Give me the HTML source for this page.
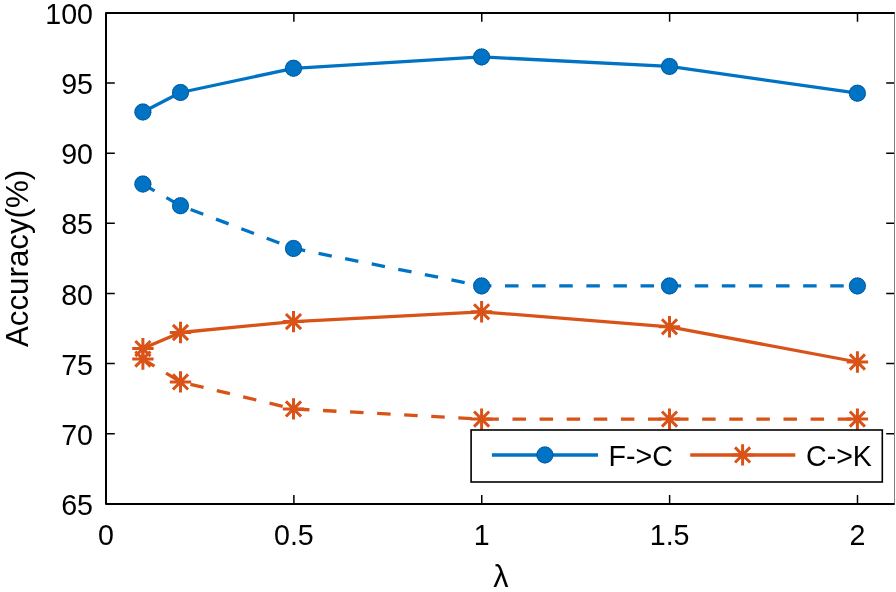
<!DOCTYPE html>
<html><head><meta charset="utf-8"><title>Accuracy vs lambda</title><style>html,body{margin:0;padding:0;background:#fff;width:896px;height:592px;overflow:hidden}svg{display:block}</style></head><body>
<svg width="896" height="592" viewBox="0 0 896 592">
<rect width="896" height="592" fill="#fff"/>
<g fill="none" stroke-linejoin="round">
<polyline points="142.90,112.00 180.50,92.50 293.50,68.30 481.60,56.90 669.50,66.40 857.40,93.20" stroke="#0073C4" stroke-width="3.3"/>
<polyline points="142.90,184.10 180.50,205.70 293.50,248.40 481.60,285.90 669.50,285.90 857.40,285.90" stroke="#0073C4" stroke-width="3.3" stroke-dasharray="13.5 13.6" stroke-dashoffset="0"/>
<polyline points="142.90,348.60 180.50,332.50 293.50,321.60 481.60,311.80 669.50,326.80 857.40,362.00" stroke="#D95319" stroke-width="3.3"/>
<polyline points="142.90,359.10 180.50,381.90 293.50,408.90 481.60,419.10 669.50,419.10 857.40,419.10" stroke="#D95319" stroke-width="3.3" stroke-dasharray="13.5 13.6" stroke-dashoffset="0"/>
</g>
<circle cx="142.90" cy="112.00" r="8.5" fill="#0073C4"/>
<circle cx="142.90" cy="112.00" r="8.05" fill="none" stroke="#00407f" stroke-width="0.9" stroke-dasharray="1.1 0.75"/>
<circle cx="180.50" cy="92.50" r="8.5" fill="#0073C4"/>
<circle cx="180.50" cy="92.50" r="8.05" fill="none" stroke="#00407f" stroke-width="0.9" stroke-dasharray="1.1 0.75"/>
<circle cx="293.50" cy="68.30" r="8.5" fill="#0073C4"/>
<circle cx="293.50" cy="68.30" r="8.05" fill="none" stroke="#00407f" stroke-width="0.9" stroke-dasharray="1.1 0.75"/>
<circle cx="481.60" cy="56.90" r="8.5" fill="#0073C4"/>
<circle cx="481.60" cy="56.90" r="8.05" fill="none" stroke="#00407f" stroke-width="0.9" stroke-dasharray="1.1 0.75"/>
<circle cx="669.50" cy="66.40" r="8.5" fill="#0073C4"/>
<circle cx="669.50" cy="66.40" r="8.05" fill="none" stroke="#00407f" stroke-width="0.9" stroke-dasharray="1.1 0.75"/>
<circle cx="857.40" cy="93.20" r="8.5" fill="#0073C4"/>
<circle cx="857.40" cy="93.20" r="8.05" fill="none" stroke="#00407f" stroke-width="0.9" stroke-dasharray="1.1 0.75"/>
<circle cx="142.90" cy="184.10" r="8.5" fill="#0073C4"/>
<circle cx="142.90" cy="184.10" r="8.05" fill="none" stroke="#00407f" stroke-width="0.9" stroke-dasharray="1.1 0.75"/>
<circle cx="180.50" cy="205.70" r="8.5" fill="#0073C4"/>
<circle cx="180.50" cy="205.70" r="8.05" fill="none" stroke="#00407f" stroke-width="0.9" stroke-dasharray="1.1 0.75"/>
<circle cx="293.50" cy="248.40" r="8.5" fill="#0073C4"/>
<circle cx="293.50" cy="248.40" r="8.05" fill="none" stroke="#00407f" stroke-width="0.9" stroke-dasharray="1.1 0.75"/>
<circle cx="481.60" cy="285.90" r="8.5" fill="#0073C4"/>
<circle cx="481.60" cy="285.90" r="8.05" fill="none" stroke="#00407f" stroke-width="0.9" stroke-dasharray="1.1 0.75"/>
<circle cx="669.50" cy="285.90" r="8.5" fill="#0073C4"/>
<circle cx="669.50" cy="285.90" r="8.05" fill="none" stroke="#00407f" stroke-width="0.9" stroke-dasharray="1.1 0.75"/>
<circle cx="857.40" cy="285.90" r="8.5" fill="#0073C4"/>
<circle cx="857.40" cy="285.90" r="8.05" fill="none" stroke="#00407f" stroke-width="0.9" stroke-dasharray="1.1 0.75"/>
<path d="M132.20 348.60H153.60M142.90 337.90V359.30M135.33 341.03L150.47 356.17M135.33 356.17L150.47 341.03" stroke="#D95319" stroke-width="3.0" fill="none"/>
<path d="M169.80 332.50H191.20M180.50 321.80V343.20M172.93 324.93L188.07 340.07M172.93 340.07L188.07 324.93" stroke="#D95319" stroke-width="3.0" fill="none"/>
<path d="M282.80 321.60H304.20M293.50 310.90V332.30M285.93 314.03L301.07 329.17M285.93 329.17L301.07 314.03" stroke="#D95319" stroke-width="3.0" fill="none"/>
<path d="M470.90 311.80H492.30M481.60 301.10V322.50M474.03 304.23L489.17 319.37M474.03 319.37L489.17 304.23" stroke="#D95319" stroke-width="3.0" fill="none"/>
<path d="M658.80 326.80H680.20M669.50 316.10V337.50M661.93 319.23L677.07 334.37M661.93 334.37L677.07 319.23" stroke="#D95319" stroke-width="3.0" fill="none"/>
<path d="M846.70 362.00H868.10M857.40 351.30V372.70M849.83 354.43L864.97 369.57M849.83 369.57L864.97 354.43" stroke="#D95319" stroke-width="3.0" fill="none"/>
<path d="M132.20 359.10H153.60M142.90 348.40V369.80M135.33 351.53L150.47 366.67M135.33 366.67L150.47 351.53" stroke="#D95319" stroke-width="3.0" fill="none"/>
<path d="M169.80 381.90H191.20M180.50 371.20V392.60M172.93 374.33L188.07 389.47M172.93 389.47L188.07 374.33" stroke="#D95319" stroke-width="3.0" fill="none"/>
<path d="M282.80 408.90H304.20M293.50 398.20V419.60M285.93 401.33L301.07 416.47M285.93 416.47L301.07 401.33" stroke="#D95319" stroke-width="3.0" fill="none"/>
<path d="M470.90 419.10H492.30M481.60 408.40V429.80M474.03 411.53L489.17 426.67M474.03 426.67L489.17 411.53" stroke="#D95319" stroke-width="3.0" fill="none"/>
<path d="M658.80 419.10H680.20M669.50 408.40V429.80M661.93 411.53L677.07 426.67M661.93 426.67L677.07 411.53" stroke="#D95319" stroke-width="3.0" fill="none"/>
<path d="M846.70 419.10H868.10M857.40 408.40V429.80M849.83 411.53L864.97 426.67M849.83 426.67L864.97 411.53" stroke="#D95319" stroke-width="3.0" fill="none"/>
<path d="M106.00 503.90v-8.8M106.00 12.90v8.8M293.88 503.90v-8.8M293.88 12.90v8.8M481.75 503.90v-8.8M481.75 12.90v8.8M669.62 503.90v-8.8M669.62 12.90v8.8M857.50 503.90v-8.8M857.50 12.90v8.8M106.00 503.90h8.8M895.00 503.90h-8.8M106.00 433.76h8.8M895.00 433.76h-8.8M106.00 363.61h8.8M895.00 363.61h-8.8M106.00 293.47h8.8M895.00 293.47h-8.8M106.00 223.33h8.8M895.00 223.33h-8.8M106.00 153.19h8.8M895.00 153.19h-8.8M106.00 83.04h8.8M895.00 83.04h-8.8M106.00 12.90h8.8M895.00 12.90h-8.8" stroke="#000" stroke-width="1.5" fill="none"/>
<path d="M894.5 11.9V504.9" stroke="#808080" stroke-width="1" fill="none"/>
<path d="M894.5 12.90H106.00V503.90H894.5" stroke="#000" stroke-width="2.0" fill="none" stroke-linejoin="round"/>
<g font-family="Liberation Sans, Arial, Helvetica, sans-serif" font-size="28.6" fill="#000">
<text transform="translate(93.0,515.00) scale(1,1.04)" text-anchor="end">65</text>
<text transform="translate(93.0,444.86) scale(1,1.04)" text-anchor="end">70</text>
<text transform="translate(93.0,374.71) scale(1,1.04)" text-anchor="end">75</text>
<text transform="translate(93.0,304.57) scale(1,1.04)" text-anchor="end">80</text>
<text transform="translate(93.0,234.43) scale(1,1.04)" text-anchor="end">85</text>
<text transform="translate(93.0,164.29) scale(1,1.04)" text-anchor="end">90</text>
<text transform="translate(93.0,94.14) scale(1,1.04)" text-anchor="end">95</text>
<text transform="translate(93.0,24.00) scale(1,1.04)" text-anchor="end">100</text>
<text transform="translate(106.00,545.0) scale(1,1.04)" text-anchor="middle">0</text>
<text transform="translate(293.88,545.0) scale(1,1.04)" text-anchor="middle">0.5</text>
<text transform="translate(481.75,545.0) scale(1,1.04)" text-anchor="middle">1</text>
<text transform="translate(669.62,545.0) scale(1,1.04)" text-anchor="middle">1.5</text>
<text transform="translate(857.50,545.0) scale(1,1.04)" text-anchor="middle">2</text>
</g>
<g font-family="Liberation Sans, Arial, Helvetica, sans-serif" font-size="31.3" fill="#000">
<text x="500.8" y="586.5" font-size="30.5" text-anchor="middle">λ</text>
<text transform="translate(27.5,258.40) rotate(-90)" text-anchor="middle">Accuracy(%)</text>
</g>
<rect x="471.1" y="430.0" width="411.20" height="52.00" fill="#fff" stroke="#000" stroke-width="1.6"/>
<path d="M491.9 454.9H598" stroke="#0073C4" stroke-width="3.5"/>
<circle cx="544.9" cy="454.9" r="8.5" fill="#0073C4"/>
<circle cx="544.9" cy="454.9" r="8.05" fill="none" stroke="#00407f" stroke-width="0.9" stroke-dasharray="1.1 0.75"/>
<path d="M690.2 454.9H795.3" stroke="#D95319" stroke-width="3.5"/>
<path d="M731.90 454.90H753.30M742.60 444.20V465.60M735.03 447.33L750.17 462.47M735.03 462.47L750.17 447.33" stroke="#D95319" stroke-width="3.0" fill="none"/>
<g font-family="Liberation Sans, Arial, Helvetica, sans-serif" font-size="28.6" fill="#000">
<text transform="translate(608.5,465.6) scale(1,1.0)">F-&gt;C</text>
<text transform="translate(806.0,465.6) scale(1,1.0)">C-&gt;K</text>
</g>
</svg>
</body></html>
